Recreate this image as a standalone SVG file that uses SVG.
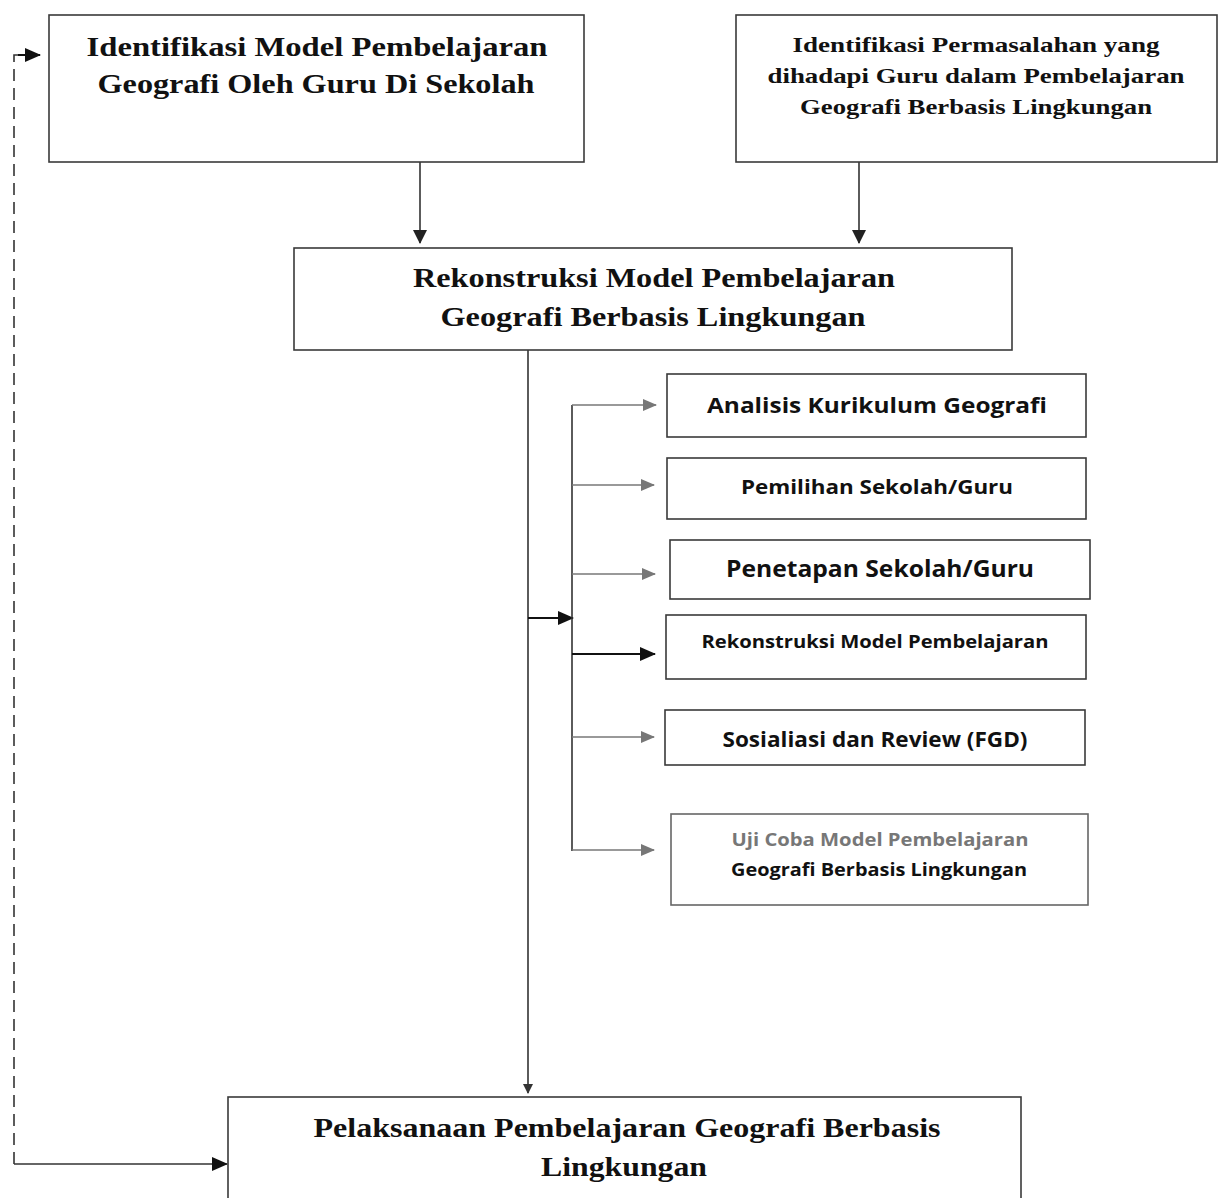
<svg xmlns="http://www.w3.org/2000/svg" width="1223" height="1198" viewBox="0 0 1223 1198">
<style>
.box{fill:#fff;stroke:#3a3a3a;stroke-width:1.6}
.serif{font-family:"Liberation Serif","Times New Roman",serif;font-weight:bold;fill:#111;text-anchor:middle}
.sans{font-family:"Open Sans","Noto Sans","Liberation Sans",sans-serif;font-weight:bold;fill:#111;text-anchor:middle}
.dark{stroke:#333;stroke-width:1.6;fill:none}
.gray{stroke:#777;stroke-width:1.4;fill:none}
.blk{stroke:#111;stroke-width:2;fill:none}
</style>
<defs>
<marker id="ad" markerWidth="10" markerHeight="10" refX="9" refY="5" orient="auto" markerUnits="userSpaceOnUse"><path d="M0,0 L10,5 L0,10 z" fill="#333"/></marker>
<marker id="ag" markerWidth="14" markerHeight="12" refX="13" refY="6" orient="auto" markerUnits="userSpaceOnUse"><path d="M0,0 L14,6 L0,12 z" fill="#777"/></marker>
<marker id="ab" markerWidth="16" markerHeight="14" refX="15" refY="7" orient="auto" markerUnits="userSpaceOnUse"><path d="M0,0 L16,7 L0,14 z" fill="#111"/></marker>
<marker id="ad2" markerWidth="14" markerHeight="14" refX="13" refY="7" orient="auto" markerUnits="userSpaceOnUse"><path d="M0,0 L14,7 L0,14 z" fill="#222"/></marker>
</defs>
<rect width="1223" height="1198" fill="#fff"/>
<g id="connectors">
<line class="dark" x1="420" y1="162" x2="420" y2="243" marker-end="url(#ad2)"/>
<line class="dark" x1="859" y1="162" x2="859" y2="243" marker-end="url(#ad2)"/>
<line class="dark" x1="528" y1="350" x2="528" y2="1093" marker-end="url(#ad)"/>
<line class="blk" x1="528" y1="618" x2="573" y2="618" marker-end="url(#ab)"/>
<line class="dark" x1="572" y1="405" x2="572" y2="851"/>
<line class="gray" x1="572" y1="405" x2="656" y2="405" marker-end="url(#ag)"/>
<line class="gray" x1="572" y1="485" x2="654" y2="485" marker-end="url(#ag)"/>
<line class="gray" x1="572" y1="574" x2="655" y2="574" marker-end="url(#ag)"/>
<line class="blk" x1="572" y1="654" x2="655" y2="654" marker-end="url(#ab)"/>
<line class="gray" x1="572" y1="737" x2="654" y2="737" marker-end="url(#ag)"/>
<line class="gray" x1="572" y1="850" x2="654" y2="850" marker-end="url(#ag)"/>
<path d="M14,1164 L14,55 L20,55" stroke="#333" stroke-width="1.6" fill="none" stroke-dasharray="12,7"/>
<line x1="18" y1="55" x2="40" y2="55" stroke="#111" stroke-width="2" marker-end="url(#ab)"/>
<line class="dark" x1="14" y1="1164" x2="227" y2="1164" marker-end="url(#ab)"/>
</g>
<g id="node-identifikasi-model">
<rect class="box" x="49" y="15" width="535" height="147"/>
<text class="serif" font-size="28" x="317" y="56" textLength="461" lengthAdjust="spacingAndGlyphs">Identifikasi  Model Pembelajaran</text>
<text class="serif" font-size="28" x="316" y="93" textLength="437" lengthAdjust="spacingAndGlyphs">Geografi Oleh Guru Di Sekolah</text>
</g>
<g id="node-identifikasi-permasalahan">
<rect class="box" x="736" y="15" width="481" height="147"/>
<text class="serif" font-size="22" x="976" y="52" textLength="367" lengthAdjust="spacingAndGlyphs">Identifikasi Permasalahan yang</text>
<text class="serif" font-size="22" x="976" y="83" textLength="417" lengthAdjust="spacingAndGlyphs">dihadapi Guru dalam Pembelajaran</text>
<text class="serif" font-size="22" x="976" y="114" textLength="352" lengthAdjust="spacingAndGlyphs">Geografi Berbasis Lingkungan</text>
</g>
<g id="node-rekonstruksi">
<rect class="box" x="294" y="248" width="718" height="102"/>
<text class="serif" font-size="28" x="654" y="287" textLength="482" lengthAdjust="spacingAndGlyphs">Rekonstruksi Model Pembelajaran</text>
<text class="serif" font-size="28" x="653" y="326" textLength="425" lengthAdjust="spacingAndGlyphs">Geografi Berbasis Lingkungan</text>
</g>
<g id="node-analisis">
<rect class="box" x="667" y="374" width="419" height="63"/>
<text class="sans" font-size="22" x="877" y="413" textLength="340" lengthAdjust="spacingAndGlyphs">Analisis Kurikulum Geografi</text>
</g>
<g id="node-pemilihan">
<rect class="box" x="667" y="458" width="419" height="61"/>
<text class="sans" font-size="19" x="877" y="494" textLength="272" lengthAdjust="spacingAndGlyphs">Pemilihan Sekolah/Guru</text>
</g>
<g id="node-penetapan">
<rect class="box" x="670" y="540" width="420" height="59"/>
<text class="sans" font-size="24" x="880" y="577" textLength="308" lengthAdjust="spacingAndGlyphs">Penetapan Sekolah/Guru</text>
</g>
<g id="node-rekonstruksi-model">
<rect class="box" x="666" y="615" width="420" height="64"/>
<text class="sans" font-size="18" x="875" y="648" textLength="347" lengthAdjust="spacingAndGlyphs">Rekonstruksi Model Pembelajaran</text>
</g>
<g id="node-sosialiasi">
<rect class="box" x="665" y="710" width="420" height="55"/>
<text class="sans" font-size="21" x="875" y="747" textLength="305" lengthAdjust="spacingAndGlyphs">Sosialiasi dan Review (FGD)</text>
</g>
<g id="node-uji-coba">
<rect class="box" x="671" y="814" width="417" height="91" style="stroke:#666"/>
<text class="sans" font-size="18" x="880" y="846" textLength="297" lengthAdjust="spacingAndGlyphs" style="fill:#777">Uji Coba Model Pembelajaran</text>
<text class="sans" font-size="18" x="879" y="876" textLength="296" lengthAdjust="spacingAndGlyphs">Geografi Berbasis Lingkungan</text>
</g>
<g id="node-pelaksanaan">
<rect class="box" x="228" y="1097" width="793" height="120"/>
<text class="serif" font-size="28" x="627" y="1137" textLength="627" lengthAdjust="spacingAndGlyphs">Pelaksanaan Pembelajaran Geografi Berbasis</text>
<text class="serif" font-size="28" x="624" y="1176" textLength="166" lengthAdjust="spacingAndGlyphs">Lingkungan</text>
</g>
</svg>
